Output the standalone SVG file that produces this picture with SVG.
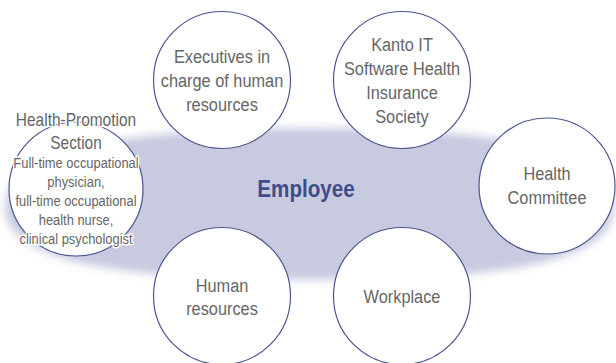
<svg xmlns="http://www.w3.org/2000/svg" width="616" height="363" viewBox="0 0 616 363">
  <defs>
    <filter id="soft" x="-10%" y="-30%" width="120%" height="160%">
      <feGaussianBlur stdDeviation="4"/>
    </filter>
    <style>
      .ring { fill: #ffffff; stroke: #4a5591; stroke-width: 1.2; }
      .lbl { font-family: "Liberation Sans", Arial, sans-serif; font-size: 19px; fill: #666666; text-anchor: middle; }
      .md { font-size: 18px; }
      .sm { font-size: 15px; }
      .halo { stroke: #ffffff; stroke-width: 3; stroke-linejoin: round; paint-order: stroke; }
      .hub { font-family: "Liberation Sans", Arial, sans-serif; font-size: 24px; font-weight: bold; fill: #3f4c8c; text-anchor: middle; }
    </style>
  </defs>
  <rect width="616" height="363" fill="#ffffff"/>

  <!-- soft lavender field around the employee -->
  <g id="employee">
    <path d="M 5,207 C 5,150 120,128 312,128 C 505,128 614,150 614,207 C 614,262 505,280 312,280 C 120,280 5,262 5,207 Z" fill="#c8cbe0" filter="url(#soft)"/>
    <g transform="translate(306 0) scale(0.86 1)">
      <text class="hub" x="0" y="197">Employee</text>
    </g>
  </g>

  <!-- no connectors: the circles sit around the central field -->
  <g id="connectors"/>

  <g id="executives">
    <circle class="ring" cx="222" cy="80" r="68.5"/>
    <g transform="translate(222 0) scale(0.86 1)">
      <text class="lbl" x="0" y="63">Executives in</text>
      <text class="lbl" x="0" y="87">charge of human</text>
      <text class="lbl" x="0" y="111">resources</text>
    </g>
  </g>

  <g id="kanto-it">
    <circle class="ring" cx="402" cy="80" r="68.5"/>
    <g transform="translate(402 0) scale(0.86 1)">
      <text class="lbl" x="0" y="51">Kanto IT</text>
      <text class="lbl" x="0" y="75">Software Health</text>
      <text class="lbl" x="0" y="99">Insurance</text>
      <text class="lbl" x="0" y="123">Society</text>
    </g>
  </g>

  <g id="health-committee">
    <circle class="ring" cx="547" cy="186" r="68"/>
    <g transform="translate(547 0) scale(0.86 1)">
      <text class="lbl" x="0" y="180">Health</text>
      <text class="lbl" x="0" y="204">Committee</text>
    </g>
  </g>

  <g id="human-resources">
    <circle class="ring" cx="222" cy="296" r="68.5"/>
    <g transform="translate(222 0) scale(0.86 1)">
      <text class="lbl" x="0" y="292">Human</text>
      <text class="lbl" x="0" y="315">resources</text>
    </g>
  </g>

  <g id="workplace">
    <circle class="ring" cx="402" cy="296" r="68.5"/>
    <g transform="translate(402 0) scale(0.86 1)">
      <text class="lbl" x="0" y="303">Workplace</text>
    </g>
  </g>

  <g id="health-promotion">
    <circle class="ring" cx="76" cy="189" r="67"/>
    <g transform="translate(76 0) scale(0.86 1)">
      <text class="lbl md halo" x="0" y="126">Health-Promotion</text>
      <text class="lbl md halo" x="0" y="149">Section</text>
      <text class="lbl sm halo" x="0" y="168">Full-time occupational</text>
      <text class="lbl sm halo" x="0" y="187">physician,</text>
      <text class="lbl sm halo" x="0" y="206">full-time occupational</text>
      <text class="lbl sm halo" x="0" y="225">health nurse,</text>
      <text class="lbl sm halo" x="0" y="244">clinical psychologist</text>
    </g>
  </g>
</svg>
